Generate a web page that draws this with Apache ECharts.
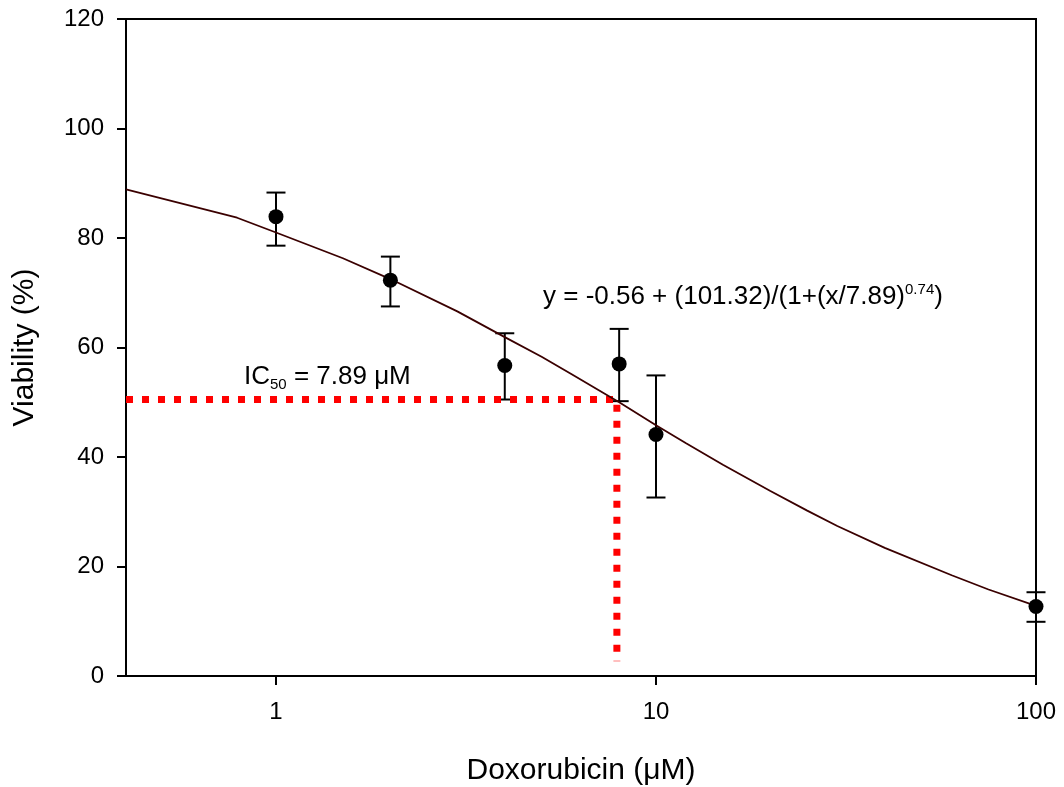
<!DOCTYPE html>
<html>
<head>
<meta charset="utf-8">
<script src="https://cdn.jsdelivr.net/npm/echarts@6/dist/echarts.min.js"></script>
<style>
  html, body { margin: 0; padding: 0; background: #fff; }
  #chart { width: 1064px; height: 787px; }
</style>
</head>
<body>
<div id="chart"></div>
<script>
// ---- data ----
const concentrations = [1, 2, 4, 8, 10, 100];            // µM
const viability      = [83.9, 72.3, 56.7, 57.0, 44.1, 12.7];
const errLow         = [78.6, 67.5, 50.5, 50.2, 32.6, 9.9];
const errHigh        = [88.3, 76.6, 62.6, 63.4, 54.9, 15.3];

// fitted curve
const fitX = [0.403, 0.79, 1, 1.5, 2, 3, 4, 5, 6, 8, 10, 12, 15, 20, 25, 30, 40, 60, 75, 100];
const fitY = [88.9, 83.7, 81.0, 76.3, 72.5, 66.6, 61.9, 58.3, 55.1, 50.0, 45.8, 42.5, 38.6, 33.8, 30.2, 27.4, 23.4, 18.4, 15.8, 12.8];

// IC50 guide lines
const ic50X = [0.403, 7.89, 7.89];
const ic50Y = [50.5, 50.5, 2.7];

const xTickValues = [1, 10, 100];
const xMin = 0.403, xMax = 100;
const yMin = 0, yMax = 120, yStep = 20;

const FONT = 'Liberation Sans, Arial, sans-serif';

const chart = echarts.init(document.getElementById('chart'), null, { renderer: 'canvas' });

const pointData = concentrations.map((c, i) => [c, viability[i]]);
const errData = concentrations.map((c, i) => [c, errLow[i], errHigh[i]]);
const fitData = fitX.map((x, i) => [x, fitY[i]]);
const icData = ic50X.map((x, i) => [x, ic50Y[i]]);

const option = {
  backgroundColor: '#ffffff',
  animation: false,
  grid: {
    left: 126, right: 28, top: 19, bottom: 111,
    containLabel: false, outerBoundsMode: 'none',
    show: true, borderColor: '#000', borderWidth: 2, backgroundColor: 'transparent'
  },
  xAxis: {
    type: 'log', logBase: 10, min: xMin, max: xMax,
    name: 'Doxorubicin (\u03bcM)', nameLocation: 'middle', nameGap: 80,
    nameTextStyle: { fontFamily: FONT, fontSize: 30, color: '#000' },
    axisLine: { show: true, onZero: false, lineStyle: { color: '#000', width: 2 } },
    axisTick: { show: true, inside: false, length: 9, customValues: xTickValues, lineStyle: { color: '#000', width: 2 } },
    axisLabel: { customValues: xTickValues, fontFamily: FONT, fontSize: 24, color: '#000', margin: 24,
      formatter: v => String(v) },
    splitLine: { show: false },
    minorTick: { show: false }
  },
  yAxis: {
    type: 'value', min: yMin, max: yMax, interval: yStep,
    name: 'Viability (%)', nameLocation: 'middle', nameGap: 86,
    nameTextStyle: { fontFamily: FONT, fontSize: 30, color: '#000' },
    axisLine: { show: true, onZero: false, lineStyle: { color: '#000', width: 2 } },
    axisTick: { show: true, inside: false, length: 9, lineStyle: { color: '#000', width: 2 } },
    axisLabel: { fontFamily: FONT, fontSize: 24, color: '#000', margin: 22 },
    splitLine: { show: false }
  },
  series: [
    {
      name: 'IC50 guide', type: 'line', data: icData, z: 3,
      symbol: 'none', silent: true,
      lineStyle: { color: '#ff0000', width: 7, type: [7, 9], cap: 'butt' }
    },
    {
      name: 'error', type: 'custom', data: errData, z: 2,
      renderItem: function (params, api) {
        const x = api.value(0);
        const lo = api.coord([x, api.value(1)]);
        const hi = api.coord([x, api.value(2)]);
        const hw = 9.5;
        const st = { stroke: '#000', lineWidth: 2 };
        return {
          type: 'group',
          children: [
            { type: 'line', shape: { x1: lo[0], y1: lo[1], x2: hi[0], y2: hi[1] }, style: st },
            { type: 'line', shape: { x1: hi[0] - hw, y1: hi[1], x2: hi[0] + hw, y2: hi[1] }, style: st },
            { type: 'line', shape: { x1: lo[0] - hw, y1: lo[1], x2: lo[0] + hw, y2: lo[1] }, style: st }
          ]
        };
      }
    },
    {
      name: 'fit', type: 'line', data: fitData, z: 4,
      symbol: 'none', smooth: false, silent: true,
      lineStyle: { color: '#3a0000', width: 1.8 }
    },
    {
      name: 'viability', type: 'scatter', data: pointData, z: 5,
      symbol: 'circle', symbolSize: 15,
      itemStyle: { color: '#000', opacity: 1 }
    }
  ],
  graphic: [
    {
      type: 'text', x: 244, y: 377,
      style: {
        text: '{m|IC}{s|50}{m| = 7.89 \u03bcM}',
        verticalAlign: 'middle', align: 'left',
        rich: {
          m: { fontFamily: FONT, fontSize: 26, lineHeight: 30, fill: '#000', verticalAlign: 'middle' },
          s: { fontFamily: FONT, fontSize: 15, lineHeight: 10, fill: '#000', verticalAlign: 'bottom' }
        }
      }
    },
    {
      type: 'text', x: 543, y: 297,
      style: {
        text: '{m|y = -0.56 + (101.32)/(1+(x/7.89)}{p|0.74}{m|)}',
        verticalAlign: 'middle', align: 'left',
        rich: {
          m: { fontFamily: FONT, fontSize: 26, lineHeight: 30, fill: '#000', verticalAlign: 'middle' },
          p: { fontFamily: FONT, fontSize: 15, lineHeight: 14, fill: '#000', verticalAlign: 'top' }
        }
      }
    }
  ]
};

chart.setOption(option);
</script>
</body>
</html>
